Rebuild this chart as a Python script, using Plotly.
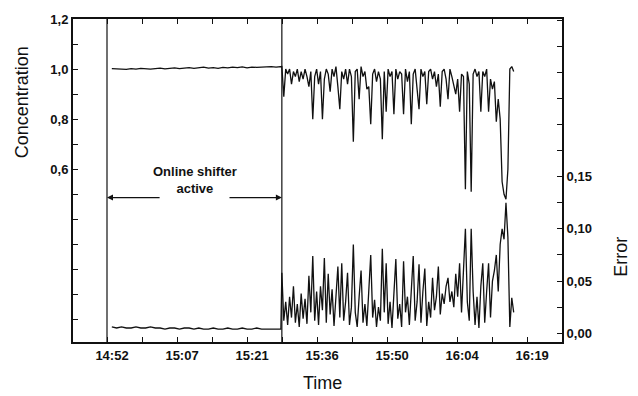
import numpy as np
import plotly.graph_objects as go

# ---- data (time in minutes after 14:52) ----
tick_minutes = [0, 7.25, 14.5, 21.75, 29, 36.25, 43.5, 50.75, 58, 65.25, 72.5, 79.75, 87]
tick_labels = ["14:52", "", "15:07", "", "15:21", "", "15:36", "", "15:50", "", "16:04", "", "16:19"]

conc_ticks = [0.0, 0.1, 0.2, 0.3, 0.4, 0.5, 0.6, 0.7, 0.8, 0.9, 1.0, 1.1, 1.2]
conc_labels = ["", "", "", "", "", "", "0,6", "", "0,8", "", "1,0", "", "1,2"]
err_ticks = [0.0, 0.025, 0.05, 0.075, 0.10, 0.125, 0.15, 0.175, 0.2, 0.225, 0.25, 0.275, 0.3]
err_labels = ["0,00", "", "0,05", "", "0,10", "", "0,15", "", "", "", "", "", ""]

shifter_on = 0.0
shifter_off = 36.2

flat_t = list(range(1, 37))
flat_conc = [1.002, 1.000, 1.001, 0.999, 1.002, 1.000, 1.003, 1.001, 1.000, 1.002,
             1.004, 1.001, 1.003, 1.005, 1.002, 1.004, 1.006, 1.003, 1.005, 1.008,
             1.004, 1.006, 1.003, 1.007, 1.005, 1.008, 1.006, 1.009, 1.005, 1.008,
             1.007, 1.009, 1.008, 1.010, 1.008, 1.010]
flat_err = [0.006, 0.005, 0.006, 0.005, 0.005, 0.006, 0.005, 0.005, 0.006, 0.005,
            0.005, 0.004, 0.005, 0.005, 0.004, 0.005, 0.005, 0.004, 0.005, 0.004,
            0.004, 0.005, 0.004, 0.004, 0.005, 0.004, 0.004, 0.005, 0.004, 0.004,
            0.005, 0.004, 0.004, 0.004, 0.004, 0.004]

noisy_conc = [1.01, 0.89, 1.00, 0.98, 1.00, 0.94, 0.99, 0.97, 1.00, 0.95,
              0.99, 0.96, 1.00, 0.97, 0.93, 0.99, 0.80, 0.97, 1.00, 0.94,
              0.99, 0.80, 0.96, 1.00, 0.98, 0.91, 1.00, 0.97, 1.01, 0.93,
              0.84, 0.99, 0.96, 1.00, 0.94, 1.00, 0.97, 0.71, 0.99, 1.00,
              0.88, 1.01, 0.97, 0.99, 0.92, 0.93, 0.78, 0.98, 1.00, 0.95,
              0.99, 0.96, 0.72, 0.99, 0.83, 1.00, 0.97, 0.99, 0.82, 1.00,
              0.96, 0.99, 0.98, 0.82, 1.00, 0.95, 0.99, 0.78, 0.98, 1.00,
              0.93, 0.84, 1.00, 0.97, 0.99, 0.86, 0.99, 1.00, 0.96, 0.99,
              0.93, 0.98, 0.85, 0.99, 1.00, 0.96, 0.88, 1.00, 0.97, 0.93,
              0.90, 0.96, 0.83, 0.98, 0.97, 0.52, 0.99, 0.94, 0.51, 0.98,
              1.00, 0.97, 0.99, 0.83, 0.99, 0.97, 1.00, 0.83, 0.96, 0.92,
              0.95, 0.79, 0.88, 0.80, 0.55, 0.50, 0.48, 0.60, 1.00, 1.01,
              0.99]
noisy_err = [0.058, 0.012, 0.030, 0.008, 0.035, 0.015, 0.045, 0.010, 0.028, 0.006,
             0.038, 0.014, 0.033, 0.009, 0.055, 0.020, 0.074, 0.012, 0.040, 0.008,
             0.045, 0.022, 0.072, 0.010, 0.057, 0.018, 0.042, 0.007, 0.035, 0.064,
             0.015, 0.067, 0.012, 0.030, 0.058, 0.008, 0.025, 0.085, 0.020, 0.006,
             0.035, 0.060, 0.010, 0.028, 0.007, 0.040, 0.075, 0.015, 0.032, 0.006,
             0.025, 0.012, 0.081, 0.020, 0.067, 0.009, 0.030, 0.005, 0.038, 0.071,
             0.014, 0.028, 0.006, 0.069, 0.020, 0.035, 0.008, 0.045, 0.074, 0.012,
             0.030, 0.066, 0.010, 0.040, 0.062, 0.007, 0.030, 0.015, 0.053, 0.022,
             0.035, 0.064, 0.018, 0.038, 0.028, 0.045, 0.053, 0.030, 0.040, 0.025,
             0.057, 0.035, 0.067, 0.020, 0.060, 0.100, 0.030, 0.012, 0.100, 0.040,
             0.008, 0.035, 0.005, 0.045, 0.067, 0.010, 0.040, 0.067, 0.015, 0.050,
             0.060, 0.075, 0.040, 0.085, 0.100, 0.090, 0.125, 0.092, 0.006, 0.034,
             0.020]
noisy_t = list(np.round(shifter_off + 0.4 * np.arange(len(noisy_conc)), 2))

t_all = flat_t + noisy_t
conc_all = flat_conc + noisy_conc
err_all = flat_err + noisy_err

FONT = "Liberation Sans, Arial, sans-serif"
BLACK = "#111111"

fig = go.Figure()
fig.add_trace(go.Scatter(x=t_all, y=conc_all, mode="lines",
                         line=dict(color=BLACK, width=1.3), yaxis="y", showlegend=False))
fig.add_trace(go.Scatter(x=t_all, y=err_all, mode="lines",
                         line=dict(color=BLACK, width=1.3), yaxis="y2", showlegend=False))

for xv in [shifter_on, shifter_off]:
    fig.add_shape(type="line", xref="x", yref="paper", x0=xv, x1=xv, y0=0, y1=1,
                  line=dict(color=BLACK, width=1.2))

tickfont = dict(family=FONT, size=13, color=BLACK, weight="bold")

fig.update_layout(
    width=638, height=396,
    margin=dict(l=73, r=76, t=12, b=54),
    paper_bgcolor="white", plot_bgcolor="white",
    xaxis=dict(range=[-7.04, 94.2], tickmode="array", tickvals=tick_minutes, ticktext=tick_labels,
               ticks="inside", ticklen=5, tickcolor=BLACK, tickwidth=1.2,
               showline=True, linecolor=BLACK, linewidth=2, mirror="ticks",
               showgrid=False, zeroline=False, tickfont=tickfont, ticklabelshift=5),
    yaxis=dict(range=[-0.09, 1.2], tickmode="array", tickvals=conc_ticks, ticktext=conc_labels,
               ticks="inside", ticklen=5, tickcolor=BLACK, tickwidth=1.2,
               showline=True, linecolor=BLACK, linewidth=2,
               showgrid=False, zeroline=False, tickfont=tickfont),
    yaxis2=dict(range=[-0.0084, 0.301], overlaying="y", side="right",
                tickmode="array", tickvals=err_ticks, ticktext=err_labels,
                ticks="inside", ticklen=5, tickcolor=BLACK, tickwidth=1.2,
                showline=True, linecolor=BLACK, linewidth=2,
                showgrid=False, zeroline=False, tickfont=tickfont),
)

title_font = dict(family=FONT, size=18, color=BLACK)
fig.add_annotation(text="Concentration", xref="paper", yref="paper",
                   x=(22 - 73) / 489, y=(396 - 54 - 97) / 330, textangle=-90, showarrow=False,
                   font=title_font, xanchor="center", yanchor="middle")
fig.add_annotation(text="Error", xref="paper", yref="paper",
                   x=(621 - 73) / 489, y=(396 - 54 - 255) / 330, textangle=-90, showarrow=False,
                   font=title_font, xanchor="center", yanchor="middle")
fig.add_annotation(text="Time", xref="paper", yref="paper",
                   x=(322 - 73) / 489, y=-(384 - 342) / 330, showarrow=False,
                   font=title_font, xanchor="center", yanchor="middle")

fig.add_annotation(text="Online shifter<br>active", xref="x", yref="y",
                   x=18.2, y=0.558, showarrow=False,
                   font=dict(family=FONT, size=13, color=BLACK, weight="bold"))
fig.add_annotation(text="", xref="x", yref="y", axref="x", ayref="y",
                   x=shifter_on, y=0.487, ax=11.2, ay=0.487, showarrow=True,
                   arrowhead=2, arrowsize=1, arrowwidth=1.2, arrowcolor=BLACK)
fig.add_annotation(text="", xref="x", yref="y", axref="x", ayref="y",
                   x=shifter_off, y=0.487, ax=25.05, ay=0.487, showarrow=True,
                   arrowhead=2, arrowsize=1, arrowwidth=1.2, arrowcolor=BLACK)

fig.write_html("out.html")
